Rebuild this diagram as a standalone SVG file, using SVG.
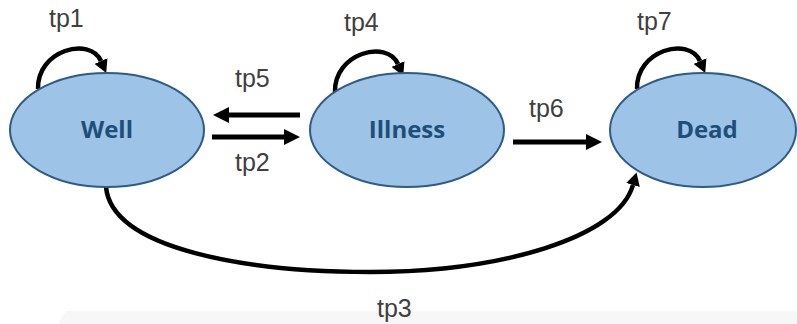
<svg xmlns="http://www.w3.org/2000/svg" width="797" height="324" viewBox="0 0 797 324">
  <defs>
    <style>
      .state { fill: #9dc3e6; stroke: #2e5c87; stroke-width: 2; }
      .state-label { font-family: "Open Sans", "Liberation Sans", sans-serif; font-weight: 700; font-size: 24px; fill: #1f4e79; text-anchor: middle; }
      .tp { font-family: "Liberation Sans", Arial, sans-serif; font-size: 25px; fill: #404040; }
      .edge { fill: none; stroke: #000; }
      .straight { stroke-width: 5; marker-end: url(#headBig); }
      .curve { stroke-width: 4.5; marker-end: url(#headSmall); }
    </style>
    <marker id="headBig" viewBox="0 0 16 16" markerWidth="16" markerHeight="16" refX="0" refY="8" orient="auto" markerUnits="userSpaceOnUse">
      <path d="M0,0 L16,8 L0,16 z" fill="#000"/>
    </marker>
    <marker id="headSmall" viewBox="0 0 13 14" markerWidth="13" markerHeight="14" refX="0" refY="7" orient="auto" markerUnits="userSpaceOnUse">
      <path d="M0,0 L13,7 L0,14 z" fill="#000"/>
    </marker>
  </defs>

  <rect width="797" height="324" fill="#ffffff"/>
  <!-- faint backdrop strip along the bottom edge -->
  <polygon points="66,311 797,311 797,324 58,324" fill="#f7f7f7"/>

  <g id="connectors">
    <!-- self transitions -->
    <path class="edge curve" d="M38,89 C37,50 90,36 101,61"/>
    <path class="edge curve" d="M335,92 C334,53 387,39 398,64"/>
    <path class="edge curve" d="M637,89 C636,50 689,36 700,61"/>
    <!-- Illness -> Well -->
    <path class="edge straight" d="M300,115 L229,115"/>
    <!-- Well -> Illness -->
    <path class="edge straight" d="M212,137 L284,137"/>
    <!-- Illness -> Dead -->
    <path class="edge straight" d="M513,142 L586,142"/>
    <!-- Well -> Dead -->
    <path class="edge curve" d="M106,187 C112,250 250,272 370,272 C500,272 618,238 633,185"/>
  </g>

  <g id="well">
    <ellipse class="state" cx="107" cy="130" rx="97" ry="57"/>
    <text class="state-label" x="107" y="138">Well</text>
  </g>
  <g id="illness">
    <ellipse class="state" cx="407" cy="130" rx="97" ry="57"/>
    <text class="state-label" x="407" y="138">Illness</text>
  </g>
  <g id="dead">
    <ellipse class="state" cx="703" cy="130" rx="93" ry="57"/>
    <text class="state-label" x="707" y="138">Dead</text>
  </g>

  <g id="labels">
    <text class="tp" x="49" y="27">tp1</text>
    <text class="tp" x="344" y="31">tp4</text>
    <text class="tp" x="637" y="30">tp7</text>
    <text class="tp" x="235" y="87">tp5</text>
    <text class="tp" x="235" y="171">tp2</text>
    <text class="tp" x="529" y="117">tp6</text>
    <text class="tp" x="377" y="317">tp3</text>
  </g>
</svg>
